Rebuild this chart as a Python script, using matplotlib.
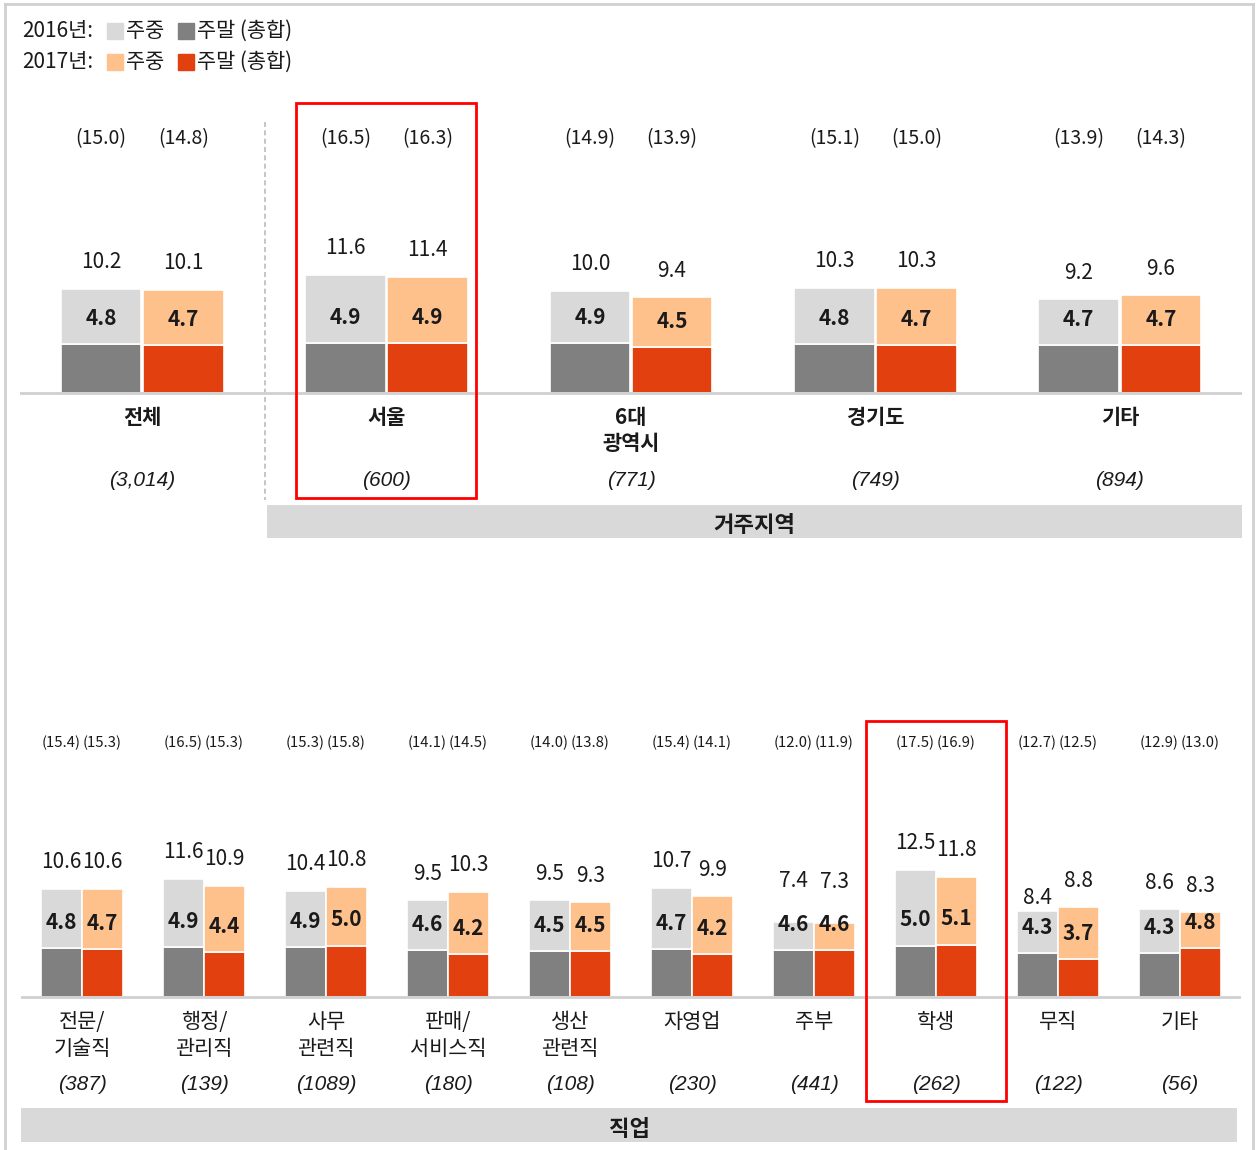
import numpy as np
import matplotlib
matplotlib.use("Agg")
import matplotlib.pyplot as plt
from matplotlib.patches import Rectangle
from matplotlib.lines import Line2D
from matplotlib.font_manager import FontProperties

plt.rcParams['font.family'] = ['Noto Sans CJK KR', 'DejaVu Sans']

# ============================================
# DATA
# ============================================

region_names = ['전체', '서울', '6대\n광역시', '경기도', '기타']
region_n = ['(3,014)', '(600)', '(771)', '(749)', '(894)']
region_total_16 = [10.2, 11.6, 10.0, 10.3, 9.2]
region_total_17 = [10.1, 11.4, 9.4, 10.3, 9.6]
region_weekend_16 = [4.8, 4.9, 4.9, 4.8, 4.7]
region_weekend_17 = [4.7, 4.9, 4.5, 4.7, 4.7]
region_sum_16 = [15.0, 16.5, 14.9, 15.1, 13.9]
region_sum_17 = [14.8, 16.3, 13.9, 15.0, 14.3]

job_names = ['전문/\n기술직', '행정/\n관리직', '사무\n관련직', '판매/\n서비스직', '생산\n관련직',
             '자영업', '주부', '학생', '무직', '기타']
job_n = ['(387)', '(139)', '(1089)', '(180)', '(108)', '(230)', '(441)', '(262)', '(122)', '(56)']
job_total_16 = [10.6, 11.6, 10.4, 9.5, 9.5, 10.7, 7.4, 12.5, 8.4, 8.6]
job_total_17 = [10.6, 10.9, 10.8, 10.3, 9.3, 9.9, 7.3, 11.8, 8.8, 8.3]
job_weekend_16 = [4.8, 4.9, 4.9, 4.6, 4.5, 4.7, 4.6, 5.0, 4.3, 4.3]
job_weekend_17 = [4.7, 4.4, 5.0, 4.2, 4.5, 4.2, 4.6, 5.1, 3.7, 4.8]
job_sum_16 = [15.4, 16.5, 15.3, 14.1, 14.0, 15.4, 12.0, 17.5, 12.7, 12.9]
job_sum_17 = [15.3, 15.3, 15.8, 14.5, 13.8, 14.1, 11.9, 16.9, 12.5, 13.0]

# ============================================
# STYLE
# ============================================

C16_DAY = '#D9D9D9'
C16_END = '#808080'
C17_DAY = '#FFC18C'
C17_END = '#E2400F'
BASE = '#D0D0D0'
BAND = '#D9D9D9'
TXT = '#1a1a1a'

W, H = 1260, 1150
PX = 10.2      # pixels per hour

# total labels that were nudged by hand in the original (year index, bar index) -> hours
job_total_nudge = {(0, 6): 1.4, (1, 6): 1.4, (0, 8): -1.3}

ITALIC = FontProperties(family='Liberation Sans', style='italic', size=15)

fig = plt.figure(figsize=(W / 100, H / 100), dpi=100)


def make_axes(x0, x1, y_top, y_bot, base_px, ngroups):
    ax = fig.add_axes([x0 / W, (H - y_bot) / H, (x1 - x0) / W, (y_bot - y_top) / H])
    ax.set_xlim(-0.5, ngroups - 0.5)
    ax.set_ylim((base_px - y_bot) / PX, (base_px - y_top) / PX)
    ax.axis('off')
    return ax


def draw_panel(ax, names, ns, tot16, tot17, we16, we17, s16, s17,
               bold_names, sum_size, nudge):
    x = np.arange(len(names))
    off = 0.168
    bw = 0.33
    we16 = np.array(we16)
    we17 = np.array(we17)
    day16 = np.array(tot16) - we16
    day17 = np.array(tot17) - we17

    ax.bar(x - off, we16, bw, color=C16_END, edgecolor='white', linewidth=1.2)
    ax.bar(x - off, day16, bw, bottom=we16, color=C16_DAY, edgecolor='white', linewidth=1.2)
    ax.bar(x + off, we17, bw, color=C17_END, edgecolor='white', linewidth=1.2)
    ax.bar(x + off, day17, bw, bottom=we17, color=C17_DAY, edgecolor='white', linewidth=1.2)

    ax.axhline(0, color=BASE, lw=2, zorder=3)

    sums = []
    for k, (xi, we, tot, sm) in enumerate([(x - off, we16, tot16, s16),
                                           (x + off, we17, tot17, s17)]):
        for i in range(len(names)):
            ax.text(xi[i], we[i] + 2.55, f'{we[i]:.1f}', ha='center', va='center',
                    fontsize=15, fontweight='bold', color=TXT)
            ax.text(xi[i], tot[i] + 2.6 + nudge.get((k, i), 0), f'{tot[i]:.1f}',
                    ha='center', va='center', fontsize=15, color=TXT)
            sums.append(ax.text(xi[i], 24.95, f'({sm[i]:.1f})', ha='center', va='center',
                                fontsize=sum_size, color=TXT))

    for i in range(len(names)):
        ax.text(x[i], -1.35, names[i], ha='center', va='top', fontsize=15,
                fontweight='bold' if bold_names else 'normal', color=TXT, linespacing=1.3)
        ax.text(x[i], -8.6, ns[i], ha='center', va='center', fontproperties=ITALIC, color=TXT)
    return sums


def fit_width(texts, max_px):
    # shrink the given labels until the widest one fits into max_px
    fig.canvas.draw()
    r = fig.canvas.get_renderer()
    widest = max(t.get_window_extent(r).width for t in texts)
    if widest > max_px:
        for t in texts:
            t.set_fontsize(t.get_fontsize() * max_px / widest)


# ============================================
# TOP PANEL: 거주지역
# ============================================

ax1 = make_axes(20, 1242, 100, 545, 393, len(region_names))
draw_panel(ax1, region_names, region_n, region_total_16, region_total_17,
           region_weekend_16, region_weekend_17, region_sum_16, region_sum_17,
           True, 14, {})
ax1.add_patch(Rectangle((0.511, -14.2), 4.5 - 0.511, 3.25, color=BAND, lw=0, clip_on=False))
ax1.text((0.511 + 4.5) / 2, -13.0, '거주지역', ha='center', va='center', fontsize=16,
         fontweight='bold', color=TXT)
ax1.plot([0.503, 0.503], [26.6, -10.5], color='#BBBBBB', lw=1.2, ls=(0, (3, 2)), clip_on=False)
ax1.add_patch(Rectangle((0.63, -10.3), 0.737, 38.7, fill=False, edgecolor='#FF0000', lw=2,
                        clip_on=False, zorder=5))

# ============================================
# BOTTOM PANEL: 직업
# ============================================

ax2 = make_axes(21, 1241, 715, 1148, 997, len(job_names))
job_sum_texts = draw_panel(ax2, job_names, job_n, job_total_16, job_total_17,
                           job_weekend_16, job_weekend_17, job_sum_16, job_sum_17,
                           False, 13, job_total_nudge)
ax2.add_patch(Rectangle((-0.5, -14.2), 9.97, 3.3, color=BAND, lw=0, clip_on=False))
ax2.text(4.49, -13.0, '직업', ha='center', va='center', fontsize=16,
         fontweight='bold', color=TXT)
ax2.add_patch(Rectangle((6.43, -10.2), 1.14, 37.3, fill=False, edgecolor='#FF0000', lw=2,
                        clip_on=False, zorder=5))

# ============================================
# LEGEND + BORDER
# ============================================

def legend_row(y, year, c_day, c_end):
    fig.text(22 / W, 1 - y / H, f'{year}년:', ha='left', va='center', fontsize=15, color=TXT)
    fig.patches.append(Rectangle((107 / W, 1 - (y + 8) / H), 16 / W, 16 / H, color=c_day,
                                 transform=fig.transFigure))
    fig.text(126 / W, 1 - y / H, '주중', ha='left', va='center', fontsize=15, color=TXT)
    fig.patches.append(Rectangle((178 / W, 1 - (y + 8) / H), 16 / W, 16 / H, color=c_end,
                                 transform=fig.transFigure))
    fig.text(197 / W, 1 - y / H, '주말 (총합)', ha='left', va='center', fontsize=15, color=TXT)


legend_row(31, 2016, C16_DAY, C16_END)
legend_row(62, 2017, C17_DAY, C17_END)

for xs, ys in [([5, 5], [4, 1150]), ([5, 1253], [4, 4]), ([1253, 1253], [4, 1150])]:
    fig.add_artist(Line2D([v / W for v in xs], [1 - v / H for v in ys], color='#D0D0D0', lw=2,
                          transform=fig.transFigure))

fit_width(job_sum_texts, 39)

fig.savefig('out.png', dpi=100, facecolor='white')
